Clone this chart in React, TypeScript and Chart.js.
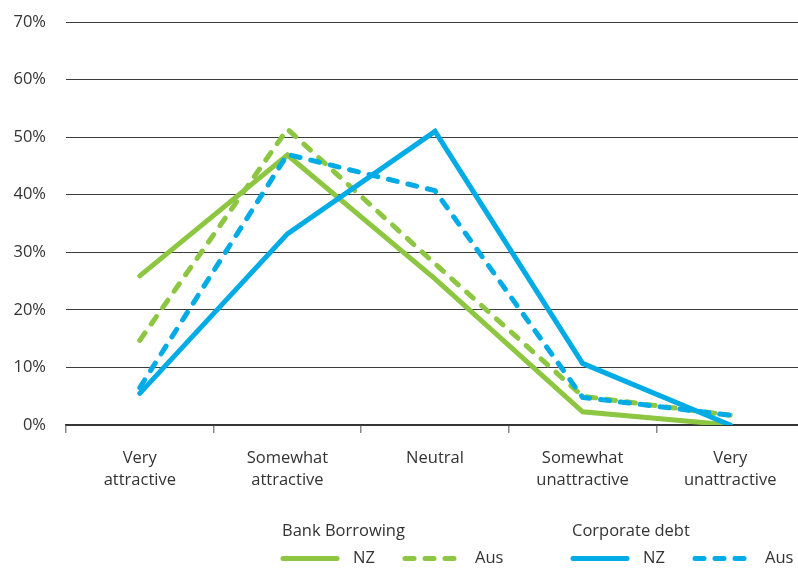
import React, { useEffect, useRef } from "react";
import { Chart, registerables } from "chart.js";

Chart.register(...registerables);

// Survey answer categories (x axis)
const categories: (string | string[])[] = [
  ["Very", "attractive"],
  ["Somewhat", "attractive"],
  "Neutral",
  ["Somewhat", "unattractive"],
  ["Very", "unattractive"],
];

// Share of respondents, in percent
const bankBorrowingNZ = [25.9, 46.9, 25.4, 2.3, 0];
const bankBorrowingAus = [14.7, 51.4, 28.0, 5.0, 1.7];
const corporateDebtNZ = [5.5, 33.2, 51.0, 10.7, 0];
const corporateDebtAus = [6.5, 47.0, 40.7, 4.8, 1.7];

const yTicks = [0, 10, 20, 30, 40, 50, 60, 70];

const GREEN = "#8DC641";
const BLUE = "#00ABE6";
const TEXT = "#333333";
const FONT = "'Open Sans', sans-serif";
const DASH = [9, 11];

// Legend grouped by instrument, drawn under the axis labels
const legendPlugin = {
  id: "groupedLegend",
  afterDraw(chart: any) {
    const ctx = chart.ctx as CanvasRenderingContext2D;
    const sets = chart.data.datasets as any[];
    const groups = [
      { title: "Bank Borrowing", x: 281, items: [sets[0], sets[1]] },
      { title: "Corporate debt", x: 571, items: [sets[2], sets[3]] },
    ];
    ctx.save();
    ctx.font = `16.5px ${FONT}`;
    ctx.fillStyle = TEXT;
    for (const g of groups) {
      ctx.textBaseline = "alphabetic";
      ctx.textAlign = "left";
      ctx.fillText(g.title, g.x + 1, 536);
      let x = g.x;
      for (const ds of g.items) {
        const w = 60;
        ctx.beginPath();
        ctx.strokeStyle = ds.borderColor;
        ctx.lineWidth = 5;
        ctx.lineCap = "round";
        ctx.setLineDash(ds.borderDash || []);
        ctx.moveTo(x + 2, 558.5);
        ctx.lineTo(x + w - 4, 558.5);
        ctx.stroke();
        ctx.setLineDash([]);
        ctx.fillStyle = TEXT;
        ctx.textBaseline = "middle";
        ctx.fillText(ds.label, x + w + 12, 558.5);
        x += 122;
      }
    }
    ctx.restore();
  },
};

export default function App() {
  const ref = useRef<HTMLCanvasElement | null>(null);

  useEffect(() => {
    if (!ref.current) return;
    const chart = new Chart(ref.current, {
      type: "line",
      data: {
        labels: categories,
        datasets: [
          {
            label: "NZ",
            data: bankBorrowingNZ,
            borderColor: GREEN,
            borderWidth: 5,
            order: 2,
          },
          {
            label: "Aus",
            data: bankBorrowingAus,
            borderColor: GREEN,
            borderWidth: 5,
            borderDash: DASH,
            order: 3,
          },
          {
            label: "NZ",
            data: corporateDebtNZ,
            borderColor: BLUE,
            borderWidth: 5,
            order: 0,
          },
          {
            label: "Aus",
            data: corporateDebtAus,
            borderColor: BLUE,
            borderWidth: 5,
            borderDash: DASH,
            order: 1,
          },
        ],
      },
      options: {
        animation: false,
        responsive: true,
        maintainAspectRatio: false,
        layout: { padding: { top: 22, left: 0, right: 0, bottom: 0 } },
        elements: {
          line: {
            tension: 0,
            borderCapStyle: "round",
            borderJoinStyle: "miter",
            fill: false,
          },
          point: { radius: 0, hoverRadius: 0 },
        },
        plugins: {
          legend: { display: false },
          tooltip: { enabled: false },
        },
        scales: {
          x: {
            type: "category",
            offset: true,
            afterFit(scale: any) {
              scale.height = 144;
              scale.paddingLeft = 0;
              scale.paddingRight = 0;
            },
            grid: {
              offset: true,
              drawOnChartArea: false,
              drawTicks: true,
              tickLength: 8,
              color: "#8a8a8a",
              lineWidth: 1.5,
            },
            border: { display: true, color: "#333333", width: 1.5 },
            ticks: {
              color: TEXT,
              font: { family: FONT, size: 16.5, lineHeight: 1.3 },
              padding: 15,
              maxRotation: 0,
              autoSkip: false,
            },
          },
          y: {
            min: 0,
            max: 70,
            afterFit(scale: any) {
              scale.width = 66;
              scale.paddingTop = 0;
              scale.paddingBottom = 0;
            },
            afterBuildTicks(scale: any) {
              scale.ticks = yTicks.map((v) => ({ value: v }));
            },
            grid: {
              color: "#3c3c3c",
              lineWidth: 1,
              drawTicks: false,
            },
            border: { display: false },
            ticks: {
              color: TEXT,
              font: { family: FONT, size: 16.5 },
              padding: 20,
              callback: (v: any) => `${v}%`,
            },
          },
        },
      },
      plugins: [legendPlugin],
    });
    return () => chart.destroy();
  }, []);

  return (
    <div
      style={{
        position: "fixed",
        left: 0,
        top: 0,
        width: 798,
        height: 569,
        overflow: "hidden",
        background: "#ffffff",
      }}
    >
      <div style={{ position: "relative", width: 804, height: 569 }}>
        <canvas ref={ref} />
      </div>
    </div>
  );
}
